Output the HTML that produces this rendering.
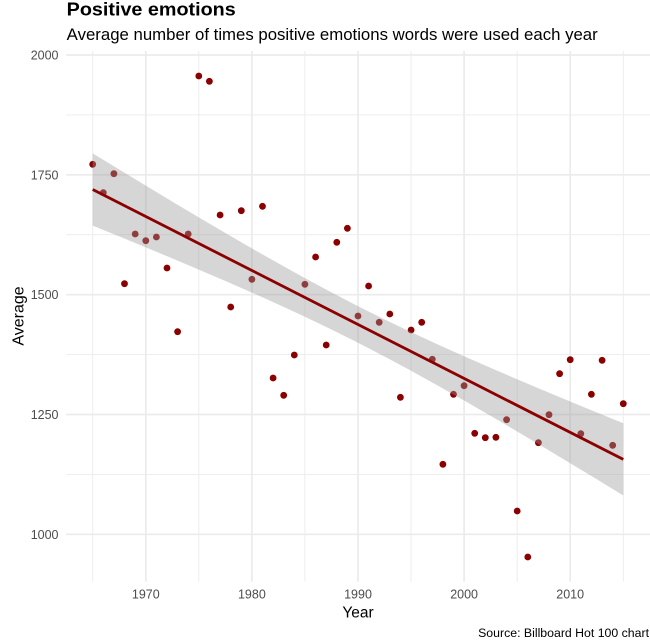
<!DOCTYPE html>
<html>
<head>
<meta charset="utf-8">
<style>
html,body{margin:0;padding:0;background:#fff;}
svg{display:block;}
text{font-family:"Liberation Sans",Arial,sans-serif;}
</style>
</head>
<body>
<svg width="650" height="643" viewBox="0 0 650 643" xmlns="http://www.w3.org/2000/svg">
<rect width="650" height="643" fill="#fff"/>
<g stroke="#ebebeb" stroke-width="0.9" fill="none">
<line x1="66.2" x2="650" y1="114.9" y2="114.9"/>
<line x1="66.2" x2="650" y1="234.7" y2="234.7"/>
<line x1="66.2" x2="650" y1="354.6" y2="354.6"/>
<line x1="66.2" x2="650" y1="474.4" y2="474.4"/>
<line x1="92.7" x2="92.7" y1="51" y2="581.7"/>
<line x1="198.8" x2="198.8" y1="51" y2="581.7"/>
<line x1="304.9" x2="304.9" y1="51" y2="581.7"/>
<line x1="411.0" x2="411.0" y1="51" y2="581.7"/>
<line x1="517.2" x2="517.2" y1="51" y2="581.7"/>
<line x1="623.3" x2="623.3" y1="51" y2="581.7"/>
</g>
<g stroke="#ebebeb" stroke-width="1.7" fill="none">
<line x1="66.2" x2="650" y1="55" y2="55"/>
<line x1="66.2" x2="650" y1="174.8" y2="174.8"/>
<line x1="66.2" x2="650" y1="294.7" y2="294.7"/>
<line x1="66.2" x2="650" y1="414.5" y2="414.5"/>
<line x1="66.2" x2="650" y1="534.3" y2="534.3"/>
<line x1="145.8" x2="145.8" y1="51" y2="581.7"/>
<line x1="251.9" x2="251.9" y1="51" y2="581.7"/>
<line x1="358.0" x2="358.0" y1="51" y2="581.7"/>
<line x1="464.1" x2="464.1" y1="51" y2="581.7"/>
<line x1="570.2" x2="570.2" y1="51" y2="581.7"/>
</g>
<g fill="#8b0000">
<circle cx="92.7" cy="164.3" r="3.4"/>
<circle cx="103.3" cy="192.7" r="3.4"/>
<circle cx="113.9" cy="173.7" r="3.4"/>
<circle cx="124.5" cy="283.7" r="3.4"/>
<circle cx="135.2" cy="234" r="3.4"/>
<circle cx="145.8" cy="240.7" r="3.4"/>
<circle cx="156.4" cy="237" r="3.4"/>
<circle cx="167.0" cy="268" r="3.4"/>
<circle cx="177.6" cy="331.7" r="3.4"/>
<circle cx="188.2" cy="234" r="3.4"/>
<circle cx="198.8" cy="76" r="3.4"/>
<circle cx="209.4" cy="81.3" r="3.4"/>
<circle cx="220.1" cy="215" r="3.4"/>
<circle cx="230.7" cy="307" r="3.4"/>
<circle cx="241.3" cy="210.7" r="3.4"/>
<circle cx="251.9" cy="279.3" r="3.4"/>
<circle cx="262.5" cy="206.3" r="3.4"/>
<circle cx="273.1" cy="378" r="3.4"/>
<circle cx="283.7" cy="395.3" r="3.4"/>
<circle cx="294.3" cy="355" r="3.4"/>
<circle cx="304.9" cy="284.3" r="3.4"/>
<circle cx="315.6" cy="257" r="3.4"/>
<circle cx="326.2" cy="345" r="3.4"/>
<circle cx="336.8" cy="242.3" r="3.4"/>
<circle cx="347.4" cy="228.3" r="3.4"/>
<circle cx="358.0" cy="316" r="3.4"/>
<circle cx="368.6" cy="286" r="3.4"/>
<circle cx="379.2" cy="322.3" r="3.4"/>
<circle cx="389.8" cy="314" r="3.4"/>
<circle cx="400.4" cy="397.3" r="3.4"/>
<circle cx="411.1" cy="330" r="3.4"/>
<circle cx="421.7" cy="322.3" r="3.4"/>
<circle cx="432.3" cy="359.3" r="3.4"/>
<circle cx="442.9" cy="464.3" r="3.4"/>
<circle cx="453.5" cy="394.3" r="3.4"/>
<circle cx="464.1" cy="385.7" r="3.4"/>
<circle cx="474.7" cy="433.3" r="3.4"/>
<circle cx="485.3" cy="437.7" r="3.4"/>
<circle cx="495.9" cy="437.3" r="3.4"/>
<circle cx="506.6" cy="419.7" r="3.4"/>
<circle cx="517.2" cy="511" r="3.4"/>
<circle cx="527.8" cy="557" r="3.4"/>
<circle cx="538.4" cy="442.7" r="3.4"/>
<circle cx="549.0" cy="414.7" r="3.4"/>
<circle cx="559.6" cy="373.7" r="3.4"/>
<circle cx="570.2" cy="359.7" r="3.4"/>
<circle cx="580.8" cy="433.7" r="3.4"/>
<circle cx="591.4" cy="394.3" r="3.4"/>
<circle cx="602.1" cy="360.3" r="3.4"/>
<circle cx="612.7" cy="445.3" r="3.4"/>
<circle cx="623.3" cy="403.7" r="3.4"/>
</g>
<polygon fill="#999999" fill-opacity="0.4" points="92.7,153.4 119.2,169.5 145.8,185.6 172.3,201.6 198.8,217.4 225.4,233.0 251.9,248.4 278.4,263.4 304.9,278.1 331.5,292.4 358.0,306.2 384.5,319.4 411.1,332.1 437.6,344.4 464.1,356.3 490.7,367.9 517.2,379.3 543.7,390.5 570.2,401.5 596.8,412.5 623.3,423.3 623.3,495.5 596.8,479.3 570.2,463.3 543.7,447.3 517.2,431.5 490.7,415.9 464.1,400.5 437.6,385.5 411.1,370.8 384.5,356.5 358.0,342.8 331.5,329.5 304.9,316.8 278.4,304.5 251.9,292.6 225.4,281.0 198.8,269.6 172.3,258.4 145.8,247.4 119.2,236.4 92.7,225.6"/>
<line x1="92.7" y1="189.5" x2="623.3" y2="459.4" stroke="#8b0000" stroke-width="2.8"/>
<g font-size="12.5" fill="#4d4d4d" text-anchor="end">
<text x="58.5" y="59.5">2000</text>
<text x="58.5" y="179.3">1750</text>
<text x="58.5" y="299.2">1500</text>
<text x="58.5" y="419">1250</text>
<text x="58.5" y="538.8">1000</text>
</g>
<g font-size="12.5" fill="#4d4d4d" text-anchor="middle">
<text x="145.8" y="598.5">1970</text>
<text x="251.9" y="598.5">1980</text>
<text x="358.0" y="598.5">1990</text>
<text x="464.1" y="598.5">2000</text>
<text x="570.2" y="598.5">2010</text>
</g>
<text x="358" y="617.3" font-size="15.5" fill="#000" text-anchor="middle">Year</text>
<text transform="translate(23.5,316) rotate(-90)" font-size="16" fill="#000" text-anchor="middle">Average</text>
<text x="66.7" y="15.5" font-size="18" font-weight="bold" fill="#000" textLength="169" lengthAdjust="spacingAndGlyphs">Positive emotions</text>
<text x="66.7" y="40" font-size="16.3" fill="#000" textLength="531" lengthAdjust="spacingAndGlyphs">Average number of times positive emotions words were used each year</text>
<text x="649" y="637" font-size="12.3" fill="#000" text-anchor="end">Source: Billboard Hot 100 chart</text>
</svg>
</body>
</html>
